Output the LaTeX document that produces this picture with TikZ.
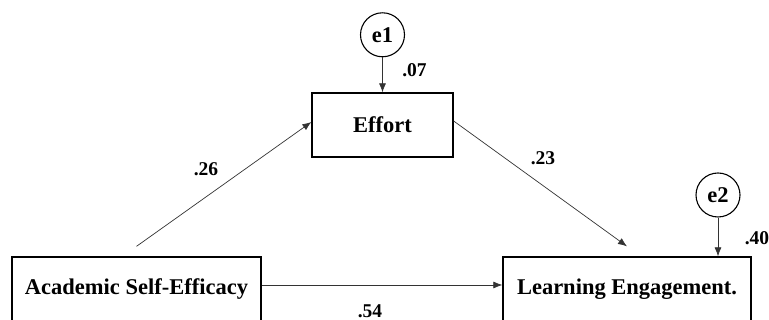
\documentclass[tikz,border=0pt]{standalone}
\usepackage{fontspec}
\setmainfont{Liberation Serif}
\usetikzlibrary{positioning,arrows.meta}

\tikzset{
    varbox/.style={rectangle,draw,line width=1.3pt,minimum height=64pt,inner sep=0pt,
      font=\fontsize{22.5}{27}\selectfont\bfseries},
    errvar/.style={circle,draw,line width=1.1pt,minimum size=44pt,inner sep=0pt,
      font=\fontsize{22.5}{27}\selectfont\bfseries},
    link/.style={draw=black!80,line width=0.7pt,-{Latex[length=9pt,width=7pt]}},
    coef/.style={font=\fontsize{19.5}{23}\selectfont\bfseries}
}

\begin{document}
\begin{tikzpicture}[x=1pt,y=1pt]

    \clip (0,0) rectangle (769,320);

    \node(effort) [varbox,minimum width=141pt] at (382.5,195) {Effort};

    \node(ase) [varbox,minimum width=249pt] at (136.5,31) {Academic Self-Efficacy};

    \node(le) [varbox,minimum width=248pt] at (627,31) {Learning Engagement.};

    \node(e1) [errvar,above=35pt of effort] {e1};

    \node(e2) [errvar] at (718,125) {e2};

    \coordinate (a0) at ([yshift=10pt]ase.north);
    \coordinate (w0) at ([yshift=3pt]effort.west);
    \coordinate (x0) at ([yshift=4pt]effort.east);
    \coordinate (l0) at ([yshift=10pt]le.north);

    \draw[link] (e1) to (effort);
    \draw[link] (e2) to (e2 |- le.north);
    \draw[link] (a0) to (w0);
    \draw[link] (x0) to (l0);
    \draw[link] ([yshift=4pt]ase.east) to ([yshift=4pt]le.west);

    \node(c07) [coef] at (414.5,250) {.07};
    \node(c26) [coef] at (206,151) {.26};
    \node(c23) [coef] at (543,162) {.23};
    \node(c40) [coef] at (757,82) {.40};
    \node(c54) [coef] at (370,9) {.54};

\end{tikzpicture}
\end{document}
